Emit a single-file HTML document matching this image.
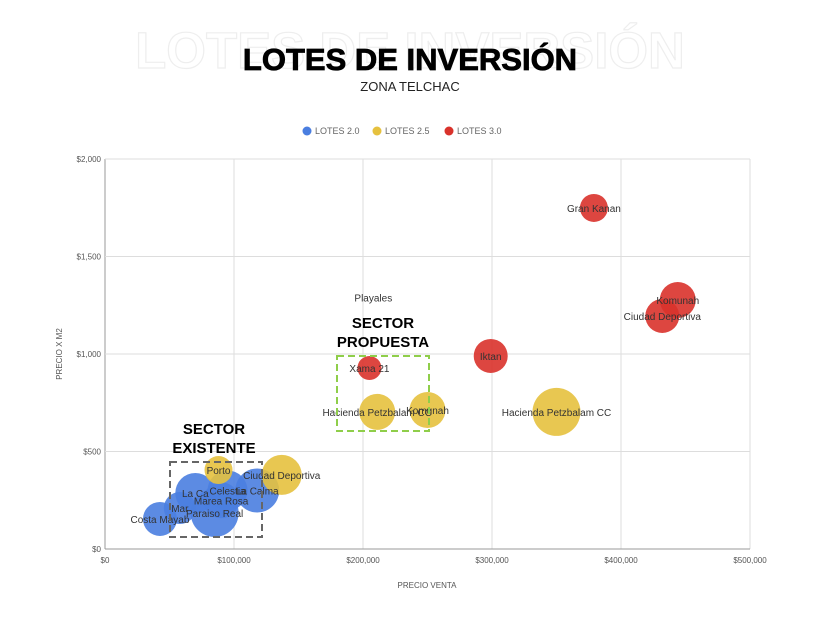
<!DOCTYPE html>
<html><head><meta charset="utf-8"><style>
body{margin:0;background:#fff;font-family:"Liberation Sans",sans-serif}
svg{display:block}
</style></head><body>
<svg width="840" height="630" xmlns="http://www.w3.org/2000/svg">
<text x="410" y="68" text-anchor="middle" font-size="51" font-weight="bold" fill="none" stroke="#eee" stroke-width="1.2">LOTES DE INVERSIÓN</text>
<text x="410" y="70" text-anchor="middle" font-size="31" font-weight="bold" fill="#000" stroke="#000" stroke-width="0.8">LOTES DE INVERSIÓN</text>
<text x="410" y="91" text-anchor="middle" font-size="13" fill="#222">ZONA TELCHAC</text>
<g font-size="9" fill="#666">
<circle cx="307" cy="131" r="4.5" fill="#4a7ee0"/><text x="315" y="134">LOTES 2.0</text>
<circle cx="377" cy="131" r="4.5" fill="#e6c13e"/><text x="385" y="134">LOTES 2.5</text>
<circle cx="449" cy="131" r="4.5" fill="#d9322b"/><text x="457" y="134">LOTES 3.0</text>
</g>
<g id="grid"></g><g id="bubbles"></g><g id="labels"></g>
<rect x="170" y="462" width="92" height="75" fill="none" stroke="#666" stroke-width="2" stroke-dasharray="7,4"/>
<rect x="337" y="356" width="92" height="75" fill="none" stroke="#8fce4a" stroke-width="2" stroke-dasharray="7,4"/>
<text x="214" y="434" text-anchor="middle" font-size="15" font-weight="bold"><tspan x="214">SECTOR</tspan><tspan x="214" dy="19">EXISTENTE</tspan></text>
<text x="383" y="328" text-anchor="middle" font-size="15" font-weight="bold"><tspan x="383">SECTOR</tspan><tspan x="383" dy="19">PROPUESTA</tspan></text>
<text x="427" y="588" text-anchor="middle" font-size="8" fill="#555">PRECIO VENTA</text>
<text x="62" y="354" text-anchor="middle" font-size="8" fill="#555" transform="rotate(-90 62 354)">PRECIO X M2</text>
</svg>
<script>
const xTicks=[0,100000,200000,300000,400000,500000];
const xTickLabels=["$0","$100,000","$200,000","$300,000","$400,000","$500,000"];
const yTicks=[0,500,1000,1500,2000];
const yTickLabels=["$0","$500","$1,000","$1,500","$2,000"];
const names=["Costa Mayab","La Ca","Celestia","La Calma","Marea Rosa","Mar","Paraiso Real","Porto","Ciudad Deportiva","Hacienda Petzbalam CC","Komunah","Hacienda Petzbalam CC","Xama 21","Playales","Iktan","Gran Kanan","Ciudad Deportiva","Komunah"];
const series=[0,0,0,0,0,0,0,1,1,1,1,1,2,2,2,2,2,2];
const prices=[42600,70000,95000,118000,90000,58000,85000,88000,137000,211000,250000,350000,205000,208000,299000,379000,432000,444000];
const pricesM2=[154,287,300,300,250,210,185,405,380,703,713,703,928,1290,990,1749,1195,1277];
const sizes=[17,20,20,22,18,16,24,14,20,18,18,24,12,0,17,14,17,18];
const colors=["#4a7ee0","#e6c13e","#d9322b"];
const X=v=>105+v/500000*645, Y=v=>549-v/2000*390;
const ns="http://www.w3.org/2000/svg";
const g=document.getElementById('grid'),b=document.getElementById('bubbles'),l=document.getElementById('labels');
function mk(p,t,a){const e=document.createElementNS(ns,t);for(const k in a)e.setAttribute(k,a[k]);p.appendChild(e);return e;}
xTicks.forEach((t,i)=>{const ln=mk(g,'line',{x1:X(t),x2:X(t),y1:159,y2:549,stroke:i?'#ddd':'#999'});

const tx=mk(g,'text',{x:X(t),y:563,'text-anchor':'middle','font-size':8,fill:'#555'});tx.textContent=xTickLabels[i];
});
yTicks.forEach((t,i)=>{const ln=mk(g,'line',{x1:105,x2:750,y1:Y(t),y2:Y(t),stroke:i?'#ddd':'#999'});

const tx=mk(g,'text',{x:101,y:Y(t)+3,'text-anchor':'end','font-size':8,fill:'#555'});tx.textContent=yTickLabels[i];
});
prices.forEach((p,i)=>{if(sizes[i]>0){const c=mk(b,'circle',{cx:X(p),cy:Y(pricesM2[i]),r:sizes[i],fill:colors[series[i]],'fill-opacity':0.9});
}
const t=mk(l,'text',{x:X(p),y:Y(pricesM2[i])+4,'text-anchor':'middle','font-size':10,fill:'#333'});t.textContent=names[i];
});
</script>
</body></html>
